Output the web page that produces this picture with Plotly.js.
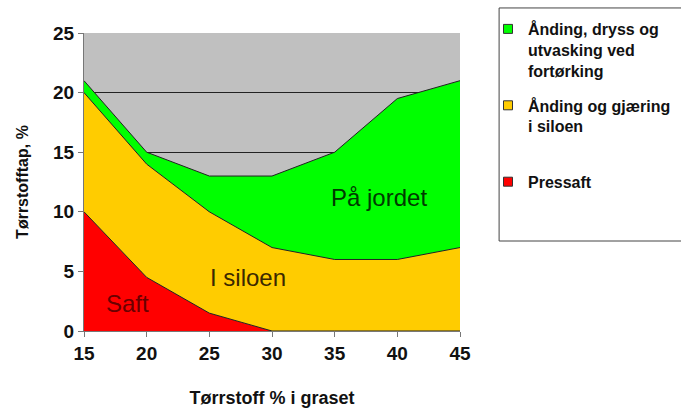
<!DOCTYPE html>
<html>
<head>
<meta charset="utf-8">
<script src="https://cdn.plot.ly/plotly-3.0.1.min.js"></script>
<style>html,body{margin:0;padding:0;background:#fff;}#chart{width:681px;height:410px;}</style>
</head>
<body>
<div id="chart"></div>
<script>
const tsPercent = [15, 20, 25, 30, 35, 40, 45];
const pressaft = [10, 4.5, 1.5, 0, 0, 0, 0];
const siloen = [10, 9.5, 8.5, 7, 6, 6, 7];
const jordet = [1, 1, 3, 6, 9, 13.5, 14];
const seriesNames = ["Pressaft", "Ånding og gjæring<br>i siloen<br> ", "Ånding, dryss og<br>utvasking ved<br>fortørking"];
const seriesColors = ["#ff0000", "#ffcc00", "#00ff00"];
const areaLabels = ["Saft", "I siloen", "På jordet"];
const areaLabelX = [18.5, 28.1, 38.5];
const areaLabelY = [2.3, 4.5, 11.2];
const areaLabelColors = ["#6a0000", "#3a2800", "#003a00"];

const font = "Arial, 'Liberation Sans', sans-serif";
const dataSets = [pressaft, siloen, jordet];
const traces = dataSets.map((vals, i) => ({
  x: tsPercent, y: vals, type: 'scatter', mode: 'lines',
  stackgroup: 'one', name: seriesNames[i], showlegend: false,
  fillcolor: seriesColors[i],
  line: {color: '#222', width: 1},
  hoverinfo: 'skip'
}));
// legend-only entries with square swatches
dataSets.forEach((vals, i) => {
  traces.push({
    x: [null], y: [null], type: 'scatter', mode: 'markers',
    name: seriesNames[i], legendgroup: 'g' + i, legendrank: 3 - i,
    marker: {symbol: 'square', size: 9, color: seriesColors[i], line: {color: '#333', width: 1}},
    hoverinfo: 'skip'
  });
});

const annotations = areaLabels.map((t, i) => ({
  x: areaLabelX[i], y: areaLabelY[i], xref: 'x', yref: 'y', text: t,
  showarrow: false, font: {family: font, size: 24, color: areaLabelColors[i]}
}));

const layout = {
  width: 681, height: 410,
  margin: {l: 84, r: 221, t: 33, b: 79},
  paper_bgcolor: '#ffffff', plot_bgcolor: '#c0c0c0',
  font: {family: font, color: '#111'},
  xaxis: {
    range: [15, 45], tickvals: tsPercent, ticks: 'outside', ticklen: 5, tickcolor: '#777',
    showline: true, linecolor: '#777', linewidth: 1, showgrid: false, zeroline: false,
    tickfont: {family: font, size: 19, color: '#111', weight: 'bold'},
    title: {text: 'Tørrstoff % i graset', font: {family: font, size: 18, color: '#111', weight: 'bold'}, standoff: 28}
  },
  yaxis: {
    range: [0, 25], dtick: 5, ticks: 'outside', ticklen: 5, tickcolor: '#777',
    showline: true, linecolor: '#777', linewidth: 1,
    showgrid: true, gridcolor: '#222', gridwidth: 1, zeroline: false,
    tickfont: {family: font, size: 19, color: '#111', weight: 'bold'},
    title: {text: 'Tørrstofftap, %', font: {family: font, size: 16, color: '#111', weight: 'bold'}, standoff: 20}
  },
  showlegend: true,
  legend: {
    xref: 'container', yref: 'container', x: 488 / 681, y: 1 - 12 / 410, xanchor: 'left', yanchor: 'top',
    traceorder: 'grouped', tracegroupgap: 11, valign: 'top',
    bgcolor: 'rgba(0,0,0,0)', borderwidth: 0,
    font: {family: font, size: 16, color: '#111', weight: 'bold'}
  },
  shapes: [{
    type: 'rect', xref: 'paper', yref: 'paper',
    x0: 1.104, x1: 1.62, y0: 0.302, y1: 1.084,
    line: {color: '#444', width: 1}, fillcolor: 'rgba(0,0,0,0)', layer: 'below'
  }],
  annotations: annotations
};

Plotly.newPlot('chart', traces, layout, {displayModeBar: false, staticPlot: true});
</script>
</body>
</html>
